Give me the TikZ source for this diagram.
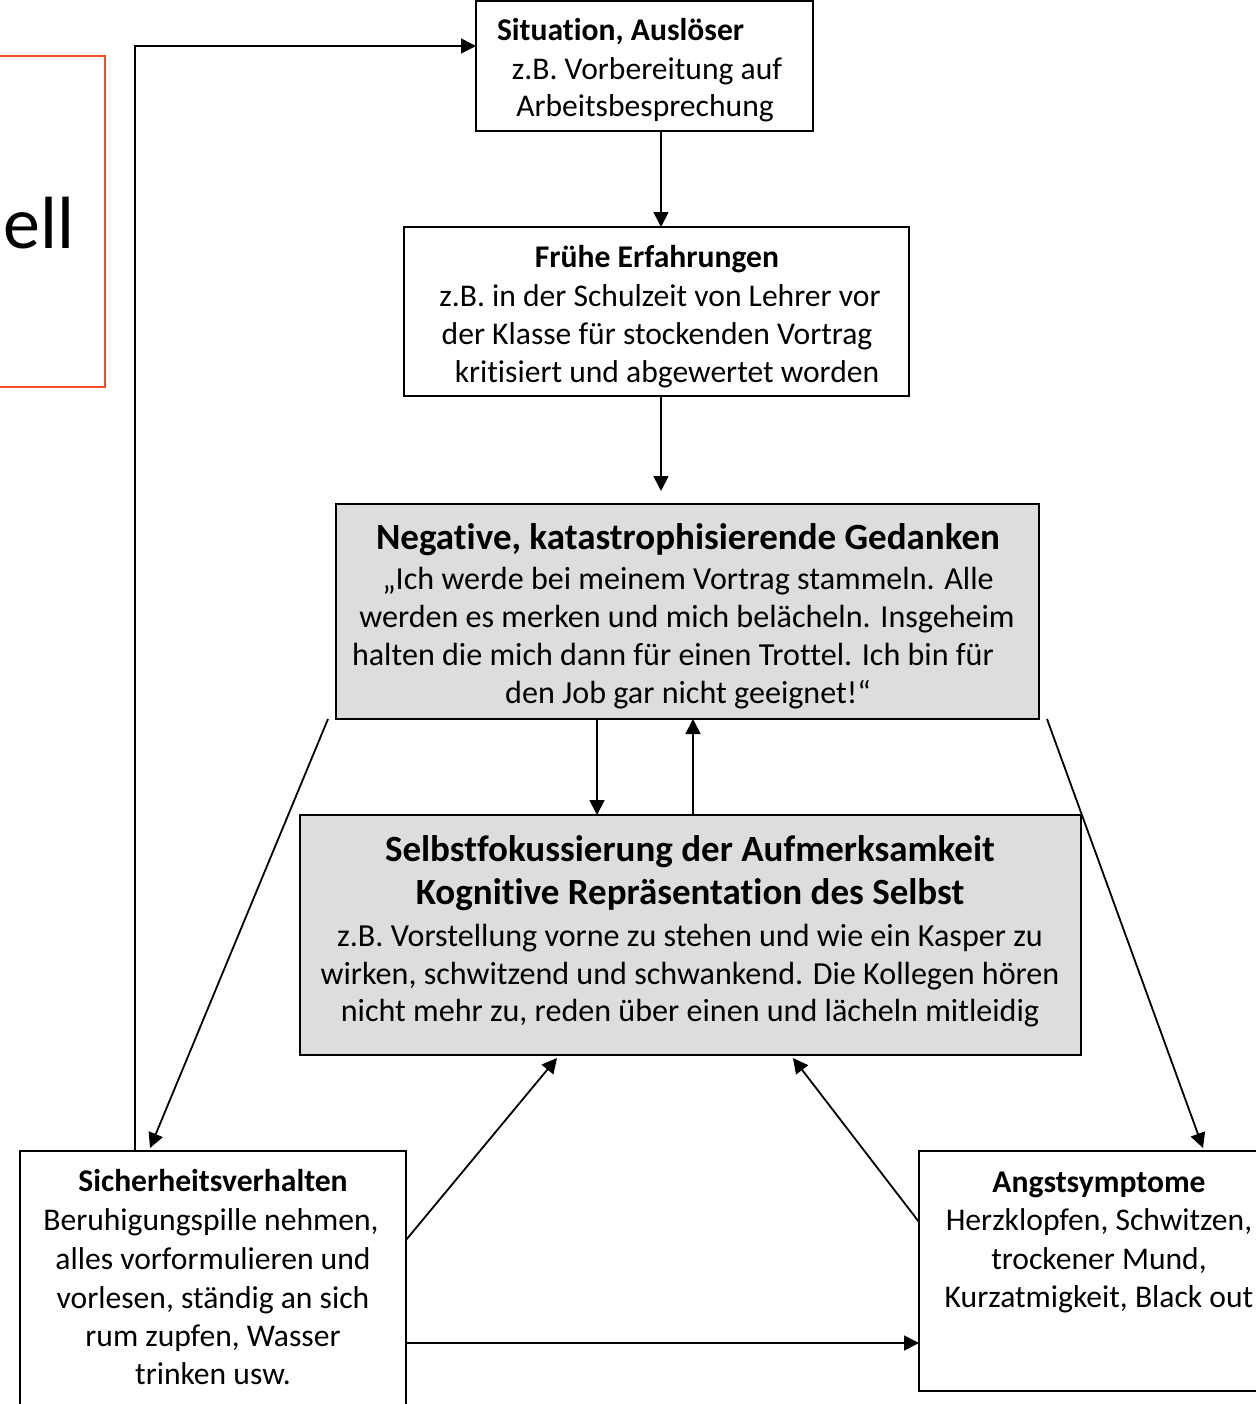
\documentclass[tikz,border=0pt]{standalone}
\usepackage{fontspec}
\setmainfont{Carlito}[Ligatures=NoCommon]
\usetikzlibrary{arrows.meta}
\definecolor{boxgray}{RGB}{221,221,221}
\definecolor{slideorange}{RGB}{240,80,35}
\tikzset{
  box/.style={draw=black, line width=1.25pt, inner sep=0pt, outer sep=0pt, fill=white},
  graybox/.style={box, fill=boxgray},
  txt/.style={inner sep=0pt, outer sep=0pt, font=\fontsize{15.8}{18}\selectfont},
  gtxt/.style={inner sep=0pt, outer sep=0pt, font=\fontsize{16.05}{18}\selectfont},
  ttl/.style={inner sep=0pt, outer sep=0pt, font=\fontsize{18.5}{21}\selectfont\bfseries},
  arr/.style={line width=0.9pt, -{Triangle[length=7.5pt,width=7.5pt]}},
  ln/.style={line width=0.9pt}
}
\begin{document}
\begin{tikzpicture}[x=0.5pt,y=-0.5pt]
\useasboundingbox (0,0) rectangle (1256,1404);
\clip (0,0) rectangle (1256,1404);
% orange title frame (cut by the page edge)
\node[draw=slideorange, line width=1pt, inner sep=0pt, minimum width=62.5pt, minimum height=165.5pt] (ttlbox) at (42.5,221.5) {};
\node[inner sep=0pt, anchor=base west, font=\fontsize{37}{40}\selectfont] (ttltxt) at (3,248) {ell};

% boxes
\node[box, minimum width=168.5pt, minimum height=65pt] (sit) at (644.5,66) {};
\node[box, minimum width=252.5pt, minimum height=84.5pt] (fru) at (656.5,311.5) {};
\node[graybox, minimum width=351.5pt, minimum height=107.5pt] (neg) at (687.5,611.5) {};
\node[graybox, minimum width=390.5pt, minimum height=120pt] (sel) at (690.5,935) {};
\node[box, minimum width=193pt, minimum height=134.5pt] (sic) at (213,1285.5) {};
\node[box, minimum width=185.5pt, minimum height=120pt] (ang) at (1104.5,1271) {};

% texts: Situation
\node[txt, anchor=base west] (sit1) at (497,40) {\textbf{Situation, Auslöser}};
\node[txt, anchor=base] (sit2) at (647,79) {z.B. Vorbereitung auf};
\node[txt, anchor=base] (sit3) at (645,116) {Arbeitsbesprechung};
% Frühe
\node[txt, anchor=base] (fru1) at (657,267) {\textbf{Frühe Erfahrungen}};
\node[txt, anchor=base] (fru2) at (660,306) {z.B. in der Schulzeit von Lehrer vor};
\node[txt, anchor=base] (fru3) at (657,344) {der Klasse für stockenden Vortrag};
\node[txt, anchor=base] (fru4) at (667,382) {kritisiert und abgewertet worden};
% Negative
\node[ttl, anchor=base] (neg1) at (688,549) {Negative, katastrophisierende Gedanken};
\node[gtxt, anchor=base] (neg2) at (688,589) {„Ich werde bei meinem Vortrag stammeln. Alle};
\node[gtxt, anchor=base] (neg3) at (687,627) {werden es merken und mich belächeln. Insgeheim};
\node[gtxt, anchor=base] (neg4) at (673,665) {halten die mich dann für einen Trottel. Ich bin für};
\node[gtxt, anchor=base] (neg5) at (688,703) {den Job gar nicht geeignet!“};
% Selbst
\node[ttl, anchor=base] (sel1) at (690,861) {Selbstfokussierung der Aufmerksamkeit};
\node[ttl, anchor=base] (sel2) at (690,904) {Kognitive Repräsentation des Selbst};
\node[gtxt, anchor=base] (sel3) at (690,946) {z.B. Vorstellung vorne zu stehen und wie ein Kasper zu};
\node[gtxt, anchor=base] (sel4) at (690,984) {wirken, schwitzend und schwankend. Die Kollegen hören};
\node[gtxt, anchor=base] (sel5) at (690,1021) {nicht mehr zu, reden über einen und lächeln mitleidig};
% Sicherheitsverhalten
\node[txt, anchor=base] (sic1) at (213,1191) {\textbf{Sicherheitsverhalten}};
\node[txt, anchor=base] (sic2) at (211,1230) {Beruhigungspille nehmen,};
\node[txt, anchor=base] (sic3) at (213,1269) {alles vorformulieren und};
\node[txt, anchor=base] (sic4) at (213,1308) {vorlesen, ständig an sich};
\node[txt, anchor=base] (sic5) at (213,1346) {rum zupfen, Wasser};
\node[txt, anchor=base] (sic6) at (213,1384) {trinken usw.};
% Angstsymptome
\node[txt, anchor=base] (ang1) at (1099,1192) {\textbf{Angstsymptome}};
\node[txt, anchor=base] (ang2) at (1099,1230) {Herzklopfen, Schwitzen,};
\node[txt, anchor=base] (ang3) at (1099,1269) {trockener Mund,};
\node[txt, anchor=base] (ang4) at (1099,1307) {Kurzatmigkeit, Black out};

% helper coordinates for connector positions
\coordinate (xa) at (661,0);
\coordinate (xdown) at (597,0);
\coordinate (xup) at (693,0);
\coordinate (xfb) at (135,0);
\coordinate (yfb) at (0,46);
\coordinate (ysicA) at (0,1240);
\coordinate (yangA) at (0,1222);
\coordinate (ybot) at (0,1343);
\coordinate (nl) at (328,719);
\coordinate (nr) at (1047,719);
\coordinate (sl) at (557,1058);
\coordinate (sr) at (793,1058);
\coordinate (sicT) at (150,1148);
\coordinate (angT) at (1203,1148);

% connectors
\draw[arr] (sit.south -| xa) -- (fru.north -| xa);
\draw[arr, shorten >=6.5pt] (fru.south -| xa) -- (neg.north -| xa);
\draw[arr] (neg.south -| xdown) -- (sel.north -| xdown);
\draw[arr] (sel.north -| xup) -- (neg.south -| xup);
\draw[arr] (nl) -- (sicT);
\draw[arr] (nr) -- (angT);
\draw[arr] (sic.east |- ysicA) -- (sl);
\draw[arr] (ang.west |- yangA) -- (sr);
\draw[arr] (sic.east |- ybot) -- (ang.west |- ybot);
\draw[arr] (sic.north -| xfb) -- (xfb |- yfb) -- (sit.west |- yfb);
\end{tikzpicture}
\end{document}
